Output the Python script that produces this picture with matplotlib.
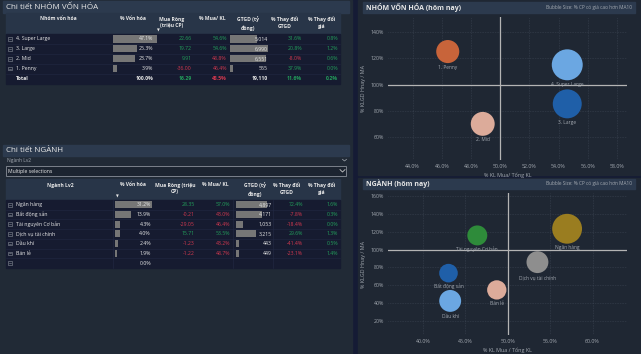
import matplotlib.pyplot as plt
from matplotlib.patches import Rectangle
from matplotlib.ticker import FuncFormatter, MultipleLocator

plt.rcParams['font.family'] = ['Open Sans', 'DejaVu Sans']

# capitalization groups (NHÓM VỐN HÓA)
cap_groups = ["4. Super Large", "3. Large", "2. Mid", "1. Penny"]
cap_share = [47.1, 25.3, 23.7, 3.9]
cap_net_buy = [22.66, 19.72, 9.91, -36.00]
cap_buy_ratio = [54.6, 54.6, 48.8, 46.4]
cap_value = [5014, 6990, 6551, 555]
cap_value_chg = [31.6, 20.8, -8.0, 37.9]
cap_price_chg = [0.8, 1.2, 0.6, 0.0]
cap_total = [100.0, 16.29, 48.5, 19110, 11.6, 0.2]
cap_vol_ratio = [114.9, 85.4, 70.3, 124.9]
cap_bubble = [72, 63, 43, 40]
cap_colors = ["#6ba7e2", "#1f5fa8", "#dcab9a", "#c8643a"]

# sectors (NGÀNH)
sector_names = ["Ngân hàng", "Bất động sản", "Tài nguyên Cơ bản",
                "Dịch vụ tài chính", "Dầu khí", "Bán lẻ"]
sector_share = [31.2, 13.9, 4.3, 4.0, 2.4, 1.9]
sector_net_buy = [28.35, -0.21, -29.05, 15.71, -1.23, -1.22]
sector_buy_ratio = [57.0, 43.0, 46.4, 53.5, 43.2, 48.7]
sector_value = [4897, 4171, 1053, 3215, 443, 449]
sector_value_chg = [72.4, -7.8, -18.4, 29.6, -41.4, -23.1]
sector_price_chg = [1.6, 0.3, 0.0, 1.3, 0.5, 1.4]
sector_vol_ratio = [123.5, 73.5, 116.0, 85.9, 42.2, 54.6]
sector_bubble = [67, 26, 30, 36, 36, 28]
sector_colors = ["#9a7d20", "#1f5fa8", "#2e8b3a", "#8e8e8e", "#6ba7e2", "#dcab9a"]

GREEN = "#23a05c"
RED = "#d2384f"
WHITE = "#e8e8e8"
GRAY_TXT = "#a3a9b1"
BAR = "#767676"

fig = plt.figure(figsize=(6.41, 3.54), dpi=100, facecolor="#151b35")
bg = fig.add_axes([0, 0, 1, 1])
bg.set_xlim(0, 641)
bg.set_ylim(354, 0)
bg.axis("off")

# panels
bg.add_patch(Rectangle((0, 0), 352, 354, color="#212a36", zorder=0))
bg.add_patch(Rectangle((358, 0), 283, 175, color="#1f2733", zorder=0))
bg.add_patch(Rectangle((358, 178), 283, 176, color="#1f2733", zorder=0))


def section_bar(x0, x1, y0, y1, title, size=5.8, bold=False, note=None):
    bg.add_patch(Rectangle((x0, y0), x1 - x0, y1 - y0, color="#2c3a4e", zorder=1))
    bg.text(x0 + 2.5, (y0 + y1) / 2, title, color=WHITE, fontsize=size,
            fontweight="bold" if bold else "normal", va="center", zorder=2)
    if note:
        bg.text(x1 - 3, (y0 + y1) / 2, note, color=GRAY_TXT, fontsize=3.4,
                ha="right", va="center", zorder=2)


def expand_box(x, y):
    bg.add_patch(Rectangle((x - 1.8, y - 1.8), 3.6, 3.6, facecolor="none",
                           edgecolor="#8a909a", lw=0.4, zorder=3))
    bg.plot([x - 1, x + 1], [y, y], color="#8a909a", lw=0.4, zorder=3)


def fmt_cols(share, net, ratio, value, vchg, pchg):
    return [("%.1f%%" % share, WHITE),
            ("%.2f" % net, GREEN if net >= 0 else RED),
            ("%.1f%%" % ratio, GREEN if ratio >= 50 else RED),
            ("{:,.0f}".format(value), WHITE),
            ("%.1f%%" % vchg, GREEN if vchg >= 0 else RED),
            ("%.1f%%" % pchg, GREEN if pchg >= 0 else RED)]


def draw_table(top, head_h, row_h, headers, head_x, val_x,
               share_bar, value_bar, names, rows, sort_xy, total_row=False):
    x0, x1 = 6, 340
    n_rows = len(rows)
    bg.add_patch(Rectangle((x0, top), x1 - x0, head_h, color="#283548", zorder=1))
    body = top + head_h
    bg.add_patch(Rectangle((x0, body), x1 - x0, row_h * n_rows,
                           color="#161b30", zorder=1))
    for i in range(1, n_rows):
        yy = body + i * row_h
        bg.plot([x0, x1], [yy, yy], color="#222842", lw=0.4, zorder=1.5)
    for hx, h in zip(head_x, headers):
        bg.text(hx, top + 3.5, h, color=WHITE, fontsize=3.6, fontweight="bold",
                ha="center", va="top", linespacing=1.5, zorder=2)
    bg.text(sort_xy[0], sort_xy[1], "▼", color=WHITE, fontsize=2.6,
            ha="center", va="center", zorder=2)
    ys = [body + row_h * (i + 0.5) for i in range(n_rows)]
    # bars
    s0, s_scale, shares = share_bar
    v0, v_scale, values = value_bar
    bg.barh(ys[:len(shares)], [s * s_scale for s in shares], left=s0,
            height=row_h * 0.72, color=BAR, zorder=2)
    bg.barh(ys[:len(values)], [v * v_scale for v in values], left=v0,
            height=row_h * 0.72, color=BAR, zorder=2)
    for i, (y, name, cells) in enumerate(zip(ys, names, rows)):
        bold = total_row and i == n_rows - 1
        if not bold:
            expand_box(10, y)
        if name:
            bg.text(15.5, y, name, color=WHITE, fontsize=3.7, va="center",
                    fontweight="bold" if bold else "normal", zorder=3)
        for vx, (txt, col) in zip(val_x, cells):
            if txt:
                bg.text(vx, y, txt, color=col, fontsize=3.7, ha="right", va="center",
                        fontweight="bold" if bold else "normal", zorder=3)
    return ys


# ---- table 1: NHÓM VỐN HÓA ----
section_bar(3, 349, 1, 13, "Chi tiết NHÓM VỐN HÓA")
rows1 = [fmt_cols(*r) for r in zip(cap_share, cap_net_buy, cap_buy_ratio,
                                   cap_value, cap_value_chg, cap_price_chg)]
tot = fmt_cols(*cap_total)
tot[0] = (tot[0][0], WHITE)
tot[3] = (tot[3][0], WHITE)
rows1.append(tot)
draw_table(13, 21, 9.9,
           ["Nhóm vốn hóa", "% Vốn hóa", "Mua Ròng\n(triệu CP)", "% Mua/ KL",
            "GTGD (tỷ\nđồng)", "% Thay đổi\nGTGD", "% Thay đổi\ngiá"],
           [58, 133, 172, 212, 248, 285, 322],
           [153, 192, 227, 268, 302, 338],
           (113, 44 / 47.1, cap_share), (230, 38 / 6990, cap_value),
           cap_groups + ["Total"], rows1, (158, 31), total_row=True)

# ---- table 2: NGÀNH ----
section_bar(3, 349, 145, 156, "Chi tiết NGÀNH")
bg.text(7, 160.5, "Ngành Lv2", color=GRAY_TXT, fontsize=3.5, va="center")
bg.plot([342.5, 344.5, 346.5], [159.3, 161, 159.3], color=GRAY_TXT, lw=0.5)
bg.add_patch(Rectangle((6, 166), 340, 10, facecolor="#1c2430",
                       edgecolor="#8a909a", lw=0.6, zorder=1))
bg.text(8.5, 171, "Multiple selections", color=WHITE, fontsize=3.7, va="center", zorder=2)
bg.plot([340, 342.5, 345], [169.6, 172, 169.6], color="#c8c8c8", lw=0.6, zorder=2)
rows2 = [fmt_cols(*r) for r in zip(sector_share, sector_net_buy, sector_buy_ratio,
                                   sector_value, sector_value_chg, sector_price_chg)]
rows2.append([("0.0%", WHITE)] + [("", WHITE)] * 5)
draw_table(179, 21, 9.7,
           ["Ngành Lv2", "% Vốn hóa", "Mua Ròng (triệu\nCP)", "% Mua/ KL",
            "GTGD (tỷ\nđồng)", "% Thay đổi\nGTGD", "% Thay đổi\ngiá"],
           [60, 133, 175, 215, 255, 287, 322],
           [151, 195, 230, 272, 303, 338],
           (115, 37 / 31.2, sector_share), (236, 31 / 4897, sector_value),
           sector_names + [""], rows2, (117, 196.5))
for xs in (113, 233, 273):
    bg.plot([xs, xs], [200, 268], color="#232a45", lw=0.4, zorder=1.5)

# ---- bubble charts ----
section_bar(363, 635, 2, 13, "NHÓM VỐN HÓA (hôm nay)", size=5, bold=True,
            note="Bubble Size: % CP có giá cao hơn MA10")
section_bar(363, 635, 179, 189, "NGÀNH (hôm nay)", size=5, bold=True,
            note="Bubble Size: % CP có giá cao hơn MA10")


def bubble_chart(rect, xs, ys, sizes, colors, labels, xlim, ylim, xstep, ystep,
                 xfmt, xlabel):
    ax = fig.add_axes(rect)
    ax.set_facecolor("none")
    ax.set_xlim(*xlim)
    ax.set_ylim(*ylim)
    for sp in ax.spines.values():
        sp.set_visible(False)
    ax.xaxis.set_major_locator(MultipleLocator(xstep))
    ax.yaxis.set_major_locator(MultipleLocator(ystep))
    ax.xaxis.set_major_formatter(FuncFormatter(lambda v, p: xfmt % v))
    ax.yaxis.set_major_formatter(FuncFormatter(lambda v, p: "%d%%" % v))
    ax.tick_params(length=0, labelsize=3.8, colors=GRAY_TXT, pad=3)
    ax.grid(True, color="#4a5462", lw=0.4, ls=(0, (1, 2)))
    ax.set_axisbelow(True)
    ax.axvline(50, color="#b4b4b4", lw=0.9, zorder=1)
    ax.axhline(100, color="#b4b4b4", lw=0.9, zorder=1)
    s = [6.9 * v for v in sizes]
    ax.scatter(xs, ys, s=s, c=colors, linewidths=0, zorder=3)
    for x, y, si, lab in zip(xs, ys, s, labels):
        r = si ** 0.5 / 2
        ax.annotate(lab, (x, y), xytext=(0, -(r + 3)), textcoords="offset points",
                    ha="center", va="center", fontsize=3.5, color=GRAY_TXT, zorder=4)
    ax.set_xlabel(xlabel, fontsize=3.9, color=GRAY_TXT, labelpad=2)
    ax.set_ylabel("% KLGD Hnay / MA", fontsize=3.9, color=GRAY_TXT, labelpad=3)
    return ax


bubble_chart([388 / 641, (354 - 160) / 354, 239 / 641, 143 / 354],
             cap_buy_ratio, cap_vol_ratio, cap_bubble, cap_colors, cap_groups,
             (42.3, 58.7), (43, 151), 2, 20, "%.1f%%", "% KL Mua/ Tổng KL")
bubble_chart([388 / 641, (354 - 335) / 354, 239 / 641, 142 / 354],
             sector_buy_ratio, sector_vol_ratio, sector_bubble, sector_colors,
             sector_names, (35.86, 64.07), (3.8, 163.8), 5, 20, "%.1f%%",
             "% KL Mua / Tổng KL")

fig.savefig("out.png", dpi=100, facecolor=fig.get_facecolor())
